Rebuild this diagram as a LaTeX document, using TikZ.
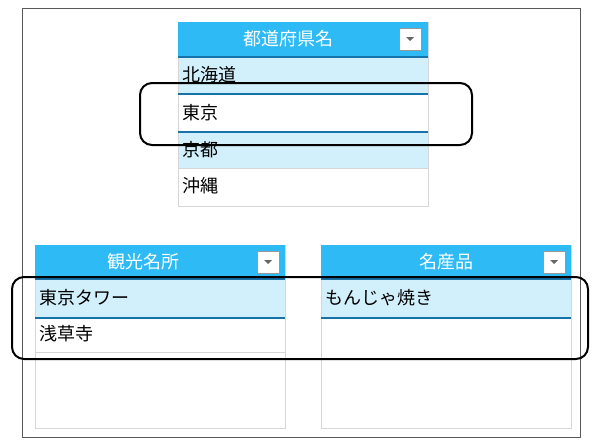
\documentclass[tikz,border=0pt]{standalone}
\usepackage{fontspec}
\setmainfont{Noto Sans CJK JP}
\begin{document}
\begin{tikzpicture}[x=1pt,y=-1pt,
  hdr/.style={fill=hblue,draw=none},
  rowtxt/.style={anchor=west,font=\fontsize{18}{18}\selectfont,inner sep=0pt},
  hdrtxt/.style={font=\fontsize{18}{18}\selectfont,text=white,inner sep=0pt},
  sel/.style={draw=black,line width=2pt,rounded corners=12pt},
  dark/.style={draw=dblue,line width=2pt}]
\definecolor{hblue}{HTML}{2EBBF5}
\definecolor{lblue}{HTML}{D2F0FC}
\definecolor{dblue}{HTML}{1672A8}
\definecolor{bgray}{HTML}{D6D6D6}
\useasboundingbox (0,0) rectangle (600,447);
\draw[gray!70!black,line width=0.8pt] (22,8) rectangle (580,437);
\newcommand{\ddbox}[2]{\draw[gray!80,fill=white,line width=1pt] (#1-11,#2-11) rectangle (#1+11,#2+11);
  \fill[gray!80!black] (#1-4,#2-2) -- (#1+4,#2-2) -- (#1,#2+2) -- cycle;}
% top table
\fill[lblue] (178,58) rectangle (428,94);
\fill[lblue] (178,132) rectangle (428,168);
\draw[bgray] (178,22) rectangle (428,206);
\draw[bgray] (178,168) -- (428,168);
\fill[hblue] (178,22) rectangle (428,56);
\draw[dark] (178,57) -- (428,57);
\draw[dark] (178,94) -- (428,94);
\draw[dark] (178,132) -- (428,132);
\node[hdrtxt] (h1) at (288,39) {都道府県名};
\ddbox{410}{39}
\node[rowtxt] (r1) at (182,75) {北海道};
\node[rowtxt] (r2) at (182,113) {東京};
\node[rowtxt] (r3) at (182,150) {京都};
\node[rowtxt] (r4) at (182,186) {沖縄};
% left table
\fill[lblue] (35,280) rectangle (285,318);
\draw[bgray] (35,245) rectangle (285,428);
\draw[bgray] (35,352) -- (285,352);
\fill[hblue] (35,245) rectangle (285,278);
\draw[dark] (35,279) -- (285,279);
\draw[dark] (35,318) -- (285,318);
\node[hdrtxt] (h2) at (143,262) {観光名所};
\ddbox{268}{262}
\node[rowtxt] (l1) at (39,298) {東京タワー};
\node[rowtxt] (l2) at (39,334) {浅草寺};
% right table
\fill[lblue] (321,280) rectangle (571,318);
\draw[bgray] (321,245) rectangle (571,428);
\fill[hblue] (321,245) rectangle (571,278);
\draw[dark] (321,279) -- (571,279);
\draw[dark] (321,318) -- (571,318);
\node[hdrtxt] (h3) at (446,262) {名産品};
\ddbox{554}{262}
\node[rowtxt] (m1) at (325,298) {もんじゃ焼き};
% selections
\draw[sel] (140,83) rectangle (472,145);
\draw[sel] (12,277) rectangle (588,359);
\end{tikzpicture}
\end{document}
